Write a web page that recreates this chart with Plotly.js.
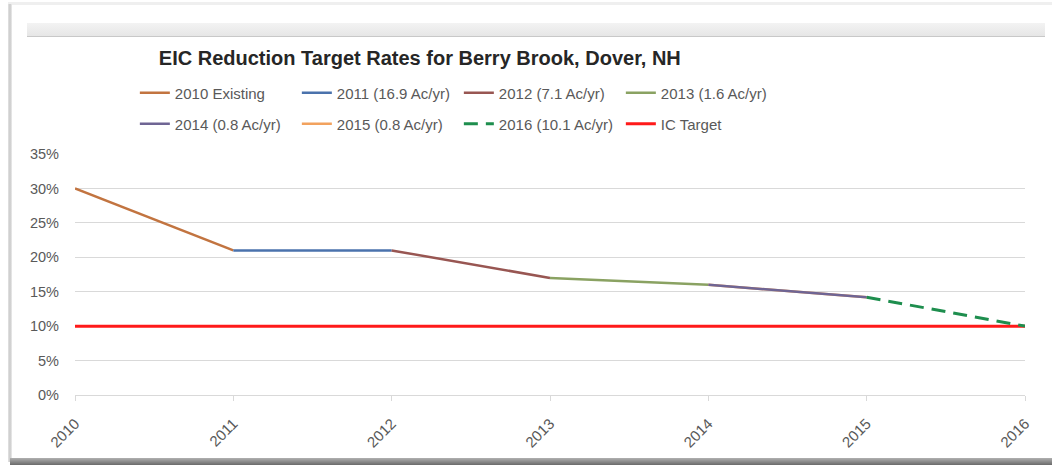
<!DOCTYPE html>
<html>
<head>
<meta charset="utf-8">
<script src="https://cdn.plot.ly/plotly-3.0.1.min.js"></script>
<style>
  html, body { margin: 0; padding: 0; background: #ffffff; }
  #wrap { position: relative; width: 1052px; height: 465px; overflow: hidden; background: #fff; }
  #topline { position: absolute; left: 8px; top: 2px; width: 1044px; height: 3px; background: #efefef; }
  #leftedge { position: absolute; left: 8px; top: 4px; width: 4px; height: 458px; background: linear-gradient(to right, #e4e4e4, #c9c9c9, #ececec); }
  #band { position: absolute; left: 27px; top: 23px; width: 1018px; height: 13px; background: linear-gradient(to bottom, #f3f3f3, #e6e6e6); border-bottom: 1px solid #c8c8c8; }
  #bottomedge { position: absolute; left: 10px; top: 458px; width: 1042px; height: 7px; background: linear-gradient(to bottom, #b0b0b0, #6a6a6a); }
  #chart { position: absolute; left: 0; top: 0; width: 1052px; height: 465px; }
</style>
</head>
<body>
<div id="wrap">
  <div id="topline"></div>
  <div id="leftedge"></div>
  <div id="band"></div>
  <div id="bottomedge"></div>
  <div id="chart"></div>
</div>
<script>
// ---- data ----
var years = [2010, 2011, 2012, 2013, 2014, 2015, 2016];
var rates = [0.30, 0.21, 0.21, 0.17, 0.16, 0.142, 0.10];
var icTarget = [0.10, 0.10, 0.10, 0.10, 0.10, 0.10, 0.10];

var seriesNames = ["2010 Existing", "2011 (16.9 Ac/yr)", "2012 (7.1 Ac/yr)", "2013 (1.6 Ac/yr)",
                   "2014 (0.8 Ac/yr)", "2015 (0.8 Ac/yr)", "2016 (10.1 Ac/yr)"];
// index of the starting year of the segment each series covers
var seriesStart = [0, 1, 2, 3, 4, 4, 5];
var seriesColors = ["#C27440", "#4A72AC", "#985652", "#8AA262", "#6F6594", "#F2A25E", "#1E8E4E"];
var seriesDash = ["solid", "solid", "solid", "solid", "solid", "solid", "dash"];
var seriesLegend = ["legend", "legend", "legend", "legend", "legend2", "legend2", "legend2"];
var drawOrder = [0, 1, 2, 3, 5, 4, 6];

var yTickVals = [0, 0.05, 0.10, 0.15, 0.20, 0.25, 0.30, 0.35];
var yTickText = ["0%", "5%", "10%", "15%", "20%", "25%", "30%", "35%"];
var titleText = "EIC Reduction Target Rates for Berry Brook, Dover, NH";

// ---- traces ----
var traces = [];
traces.push({
  x: years, y: icTarget, name: "IC Target", mode: "lines",
  line: { color: "#FF1A1A", width: 3 }, legend: "legend2", legendrank: 8
});
drawOrder.forEach(function (i) {
  var s = seriesStart[i];
  traces.push({
    x: years.slice(s, s + 2), y: rates.slice(s, s + 2),
    name: seriesNames[i], mode: "lines",
    line: { color: seriesColors[i], width: seriesDash[i] === "dash" ? 3 : 2.5,
            dash: seriesDash[i] === "dash" ? "14px,8px" : "solid" },
    legend: seriesLegend[i], legendrank: i + 1
  });
});

var font = "'Liberation Sans', Arial, sans-serif";
var legendCommon = {
  orientation: "h", xanchor: "left", yanchor: "middle",
  entrywidth: 117, entrywidthmode: "pixels", traceorder: "normal",
  font: { family: font, size: 15, color: "#595959" },
  bgcolor: "rgba(0,0,0,0)", itemwidth: 30, tracegroupgap: 0
};

var layout = {
  width: 1052, height: 465,
  margin: { l: 75, r: 27, t: 154, b: 70 },
  paper_bgcolor: "rgba(0,0,0,0)", plot_bgcolor: "#ffffff",
  title: {
    text: "<b>" + titleText + "</b>", x: 0.151, xanchor: "left", y: 0.875, yanchor: "middle",
    font: { family: font, size: 20, color: "#262626" }
  },
  xaxis: {
    range: [2010, 2016], tickvals: years, ticktext: years.map(String),
    tickangle: -45, showgrid: false, zeroline: false,
    showline: true, linecolor: "#d9d9d9", linewidth: 1,
    ticks: "outside", ticklen: 5, tickcolor: "#d9d9d9", ticklabelstandoff: 8,
    tickfont: { family: font, size: 15, color: "#595959" }
  },
  yaxis: {
    range: [0, 0.35], tickvals: yTickVals, ticktext: yTickText,
    showgrid: true, gridcolor: "#d9d9d9", gridwidth: 1, zeroline: false,
    ticks: "", ticklabelstandoff: 15,
    tickfont: { family: font, size: 14.5, color: "#595959" }
  },
  legend: Object.assign({}, legendCommon, { x: 0.063, y: 1.253 }),
  legend2: Object.assign({}, legendCommon, { x: 0.063, y: 1.124 }),
  showlegend: true
};

Plotly.newPlot("chart", traces, layout, { displayModeBar: false, staticPlot: true });
</script>
</body>
</html>
